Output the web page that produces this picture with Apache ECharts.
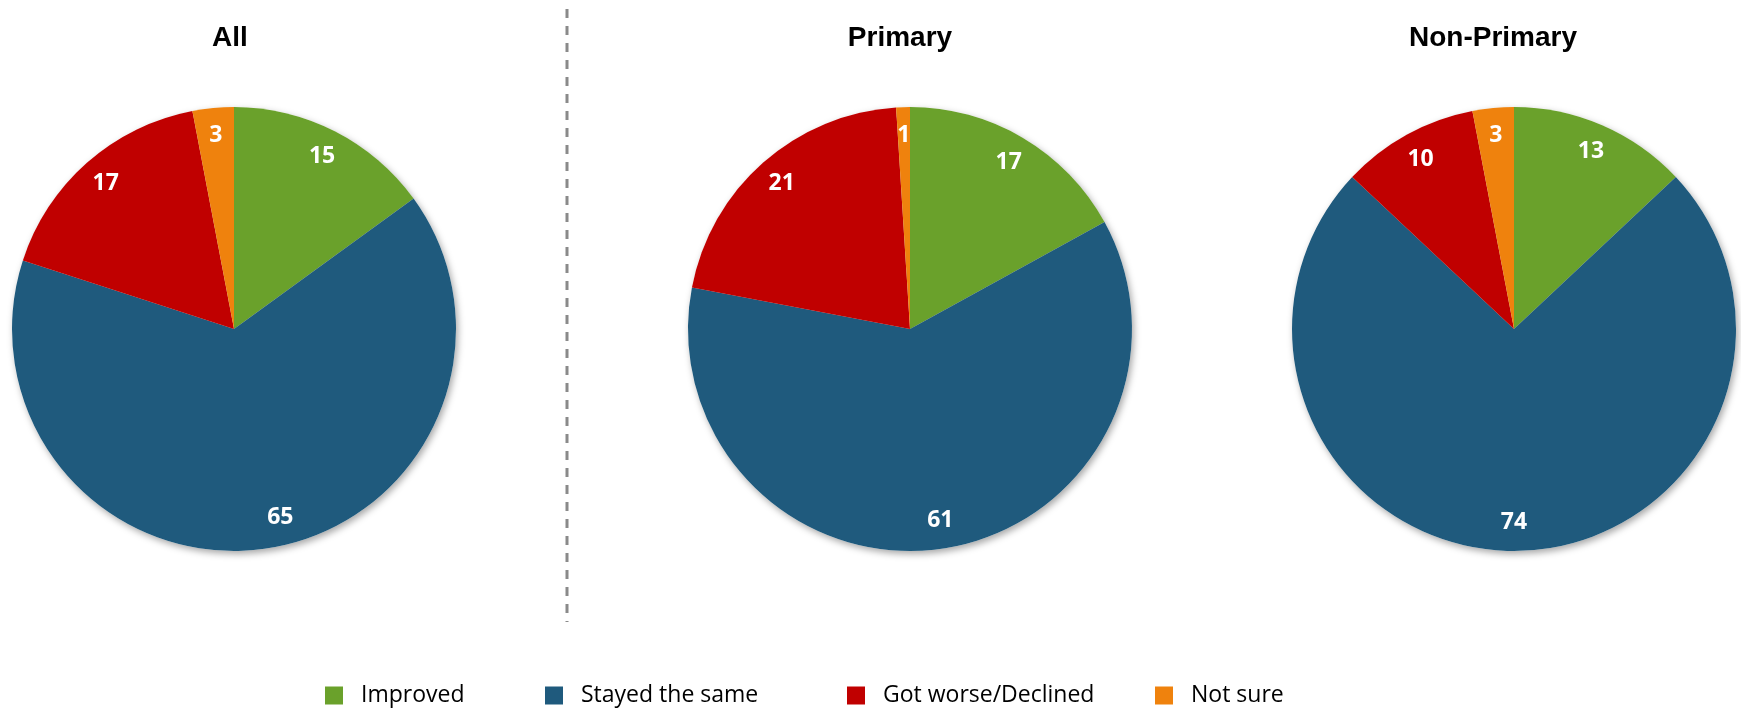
<!DOCTYPE html>
<html>
<head>
<meta charset="utf-8">
<script src="https://cdn.jsdelivr.net/npm/echarts@6/dist/echarts.min.js"></script>
<style>
html,body{margin:0;padding:0;background:#fff;}
#chart{width:1741px;height:708px;}
</style>
</head>
<body>
<div id="chart"></div>
<script>
const categories = ['Improved', 'Stayed the same', 'Got worse/Declined', 'Not sure'];
const groupTitles = ['All', 'Primary', 'Non-Primary'];
const allValues = [15, 65, 17, 3];
const primaryValues = [17, 61, 21, 1];
const nonPrimaryValues = [13, 74, 10, 3];
const colors = ['#6aa12b', '#1f5a7d', '#c00000', '#ef820d'];

const groups = [allValues, primaryValues, nonPrimaryValues];
const centersX = [234, 910, 1514];
const titleX = [230, 900, 1493];
const centerY = 329;
const R = 222;

const chart = echarts.init(document.getElementById('chart'), null, {renderer: 'canvas'});

function makeData(vals) {
  return categories.map(function (c, i) { return {name: c, value: vals[i]}; });
}

const series = [];
// shadow layer underneath
groups.forEach(function (vals, gi) {
  series.push({
    type: 'pie',
    center: [centersX[gi], centerY],
    radius: [0, R],
    startAngle: 90,
    silent: true,
    label: {show: false},
    labelLine: {show: false},
    itemStyle: {
      color: '#ffffff', borderWidth: 0,
      shadowBlur: 7, shadowOffsetX: 2, shadowOffsetY: 3,
      shadowColor: 'rgba(0,0,0,0.35)'
    },
    emphasis: {disabled: true},
    data: makeData(vals)
  });
});
// coloured pies
groups.forEach(function (vals, gi) {
  series.push({
    type: 'pie',
    center: [centersX[gi], centerY],
    radius: [0, R],
    startAngle: 90,
    clockwise: true,
    silent: true,
    label: {show: false},
    labelLine: {show: false},
    itemStyle: {borderWidth: 0},
    emphasis: {disabled: true},
    data: makeData(vals).map(function (d, i) {
      d.itemStyle = {color: colors[i]};
      return d;
    })
  });
});
// transparent rings carrying the labels near the outer edge
groups.forEach(function (vals, gi) {
  const data = makeData(vals);
  if (gi === 0) { data[1].label = {offset: [16, -3]}; }
  series.push({
    type: 'pie',
    center: [centersX[gi], centerY],
    radius: [R * 0.72, R],
    startAngle: 90,
    clockwise: true,
    avoidLabelOverlap: false,
    silent: true,
    itemStyle: {color: 'transparent', borderWidth: 0},
    label: {
      show: true,
      position: 'inside',
      formatter: '{c}',
      color: '#ffffff',
      fontFamily: 'Open Sans',
      fontWeight: 'bold',
      fontSize: 23,
      textBorderWidth: 0
    },
    labelLine: {show: false},
    emphasis: {disabled: true},
    data: data
  });
});

const legendLefts = [325, 545, 847, 1155];
const legends = categories.map(function (c, i) {
  return {
    data: [{name: c, itemStyle: {color: colors[i]}}],
    left: legendLefts[i],
    top: 684,
    padding: 0,
    icon: 'rect',
    itemWidth: 18,
    itemHeight: 18,
    selectedMode: false,
    textStyle: {
      fontFamily: 'Open Sans',
      fontSize: 23,
      color: '#000000',
      padding: [0, 0, 0, 13]
    }
  };
});

const titles = groupTitles.map(function (t, i) {
  return {
    text: t,
    left: titleX[i],
    top: 24,
    padding: 0,
    textAlign: 'center',
    textStyle: {
      fontFamily: 'Liberation Sans',
      fontWeight: 'bold',
      fontSize: 28,
      color: '#000000'
    }
  };
});

chart.setOption({
  animation: false,
  title: titles,
  legend: legends,
  series: series,
  graphic: [{
    type: 'line',
    shape: {x1: 567, y1: 9, x2: 567, y2: 622},
    style: {stroke: '#8a8a8a', lineWidth: 3, lineDash: [9, 8]},
    silent: true
  }]
});
</script>
</body>
</html>
